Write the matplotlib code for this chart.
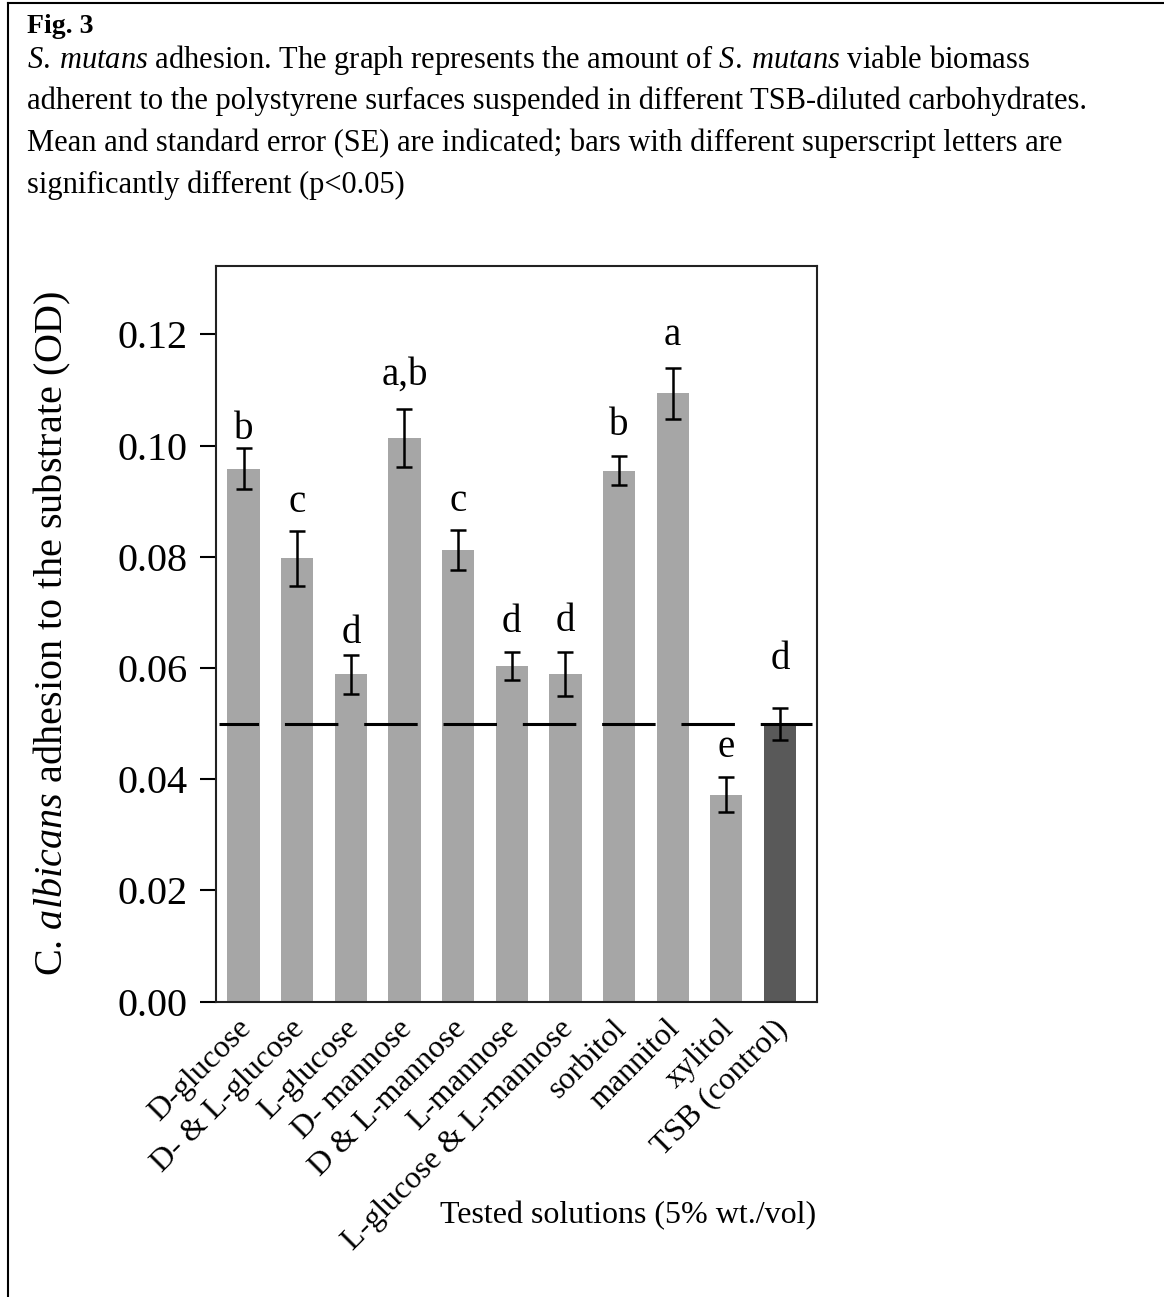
import matplotlib.pyplot as plt
from matplotlib.lines import Line2D
from matplotlib.transforms import ScaledTranslation

plt.rcParams['font.family'] = ['Liberation Serif', 'DejaVu Serif']
plt.rcParams['mathtext.fontset'] = 'custom'
plt.rcParams['mathtext.rm'] = 'Liberation Serif'
plt.rcParams['mathtext.it'] = 'Liberation Serif:italic'
plt.rcParams['mathtext.bf'] = 'Liberation Serif:bold'
plt.rcParams['lines.scale_dashes'] = False

# adhesion (OD) per tested solution, mean and SE
solutions = ['D-glucose', 'D- & L-glucose', 'L-glucose', 'D- mannose', 'D & L-mannose',
             'L-mannose', 'L-glucose & L-mannose', 'sorbitol', 'mannitol', 'xylitol',
             'TSB (control)']
mean_od = [0.0958, 0.0797, 0.0589, 0.1013, 0.0812, 0.0603, 0.0589, 0.0955, 0.1094, 0.0372, 0.0499]
se_od = [0.0037, 0.0050, 0.0035, 0.0052, 0.0036, 0.0025, 0.0040, 0.0026, 0.0046, 0.0032, 0.0029]
groups = ['b', 'c', 'd', 'a,b', 'c', 'd', 'd', 'b', 'a', 'e', 'd']
control_od = 0.05
yticks = [0.00, 0.02, 0.04, 0.06, 0.08, 0.10, 0.12]

caption = [
    r'$\mathit{S.\:mutans}$ adhesion. The graph represents the amount of '
    r'$\mathit{S.\:mutans}$ viable biomass',
    'adherent to the polystyrene surfaces suspended in different TSB-diluted carbohydrates.',
    'Mean and standard error (SE) are indicated; bars with different superscript letters are',
    'significantly different (p<0.05)',
]

fig = plt.figure(figsize=(11.64, 12.97), dpi=100)
W, H = 1164, 1297

# frame around the figure panel
fig.add_artist(Line2D([8 / W, 8 / W], [0, 1 - 3 / H], color='black', lw=1.5))
fig.add_artist(Line2D([8 / W, 1], [1 - 3 / H, 1 - 3 / H], color='black', lw=1.5))

fig.text(27 / W, 1 - 33 / H, 'Fig. 3', fontsize=20, fontweight='bold', va='baseline')
for i, line in enumerate(caption):
    fig.text(27 / W, 1 - (68 + 41.5 * i) / H, line, fontsize=22, va='baseline')

ax = fig.add_axes([216 / W, 1 - 1001.5 / H, 601.3 / W, 735.5 / H])

x = list(range(len(solutions)))
colors = ['#a6a6a6'] * (len(solutions) - 1) + ['#595959']
ax.bar(x, mean_od, width=0.6, color=colors, zorder=2)
ax.axhline(control_od, xmin=0.005, xmax=0.991, color='black', lw=2.2,
           linestyle=(10, (38.5, 18.6)), zorder=3)
ax.errorbar(x, mean_od, yerr=se_od, fmt='none', ecolor='black', elinewidth=1.8,
            capsize=6, capthick=1.8, zorder=4)

# significance letters above each error bar
lift = [6.5, 13.7, 8, 18, 13.7, 15, 15, 15, 16.5, 14, 28]
for xi, m, s, g, d in zip(x, mean_od, se_od, groups, lift):
    ax.annotate(g, (xi, m + s), xytext=(0, d), textcoords='offset points',
                ha='center', va='baseline', fontsize=28)

ax.set_xlim(-0.513, 10.695)
ax.set_ylim(0, 0.1323)
ax.set_yticks(yticks)
ax.set_yticklabels(['%.2f' % t for t in yticks], fontsize=29)
ax.set_xticks(x)
ax.set_xticklabels(solutions, rotation=45, ha='right', rotation_mode='anchor', fontsize=23)
ax.tick_params(axis='y', length=11.5, width=1.5, pad=9)
ax.tick_params(axis='x', length=0, pad=9)
shift = ScaledTranslation(-7 / 100, 0, fig.dpi_scale_trans)
for lab in ax.get_xticklabels():
    lab.set_transform(lab.get_transform() + shift)
for sp in ax.spines.values():
    sp.set_linewidth(1.5)
    sp.set_color('#222222')

ax.set_ylabel(r'C. $\mathit{albicans}$ adhesion to the substrate (OD)', fontsize=29, labelpad=32)
fig.text(816 / W, 1 - 1216 / H, 'Tested solutions (5% wt./vol)', fontsize=23, ha='right', va='center')

fig.savefig('out.png', dpi=100)
